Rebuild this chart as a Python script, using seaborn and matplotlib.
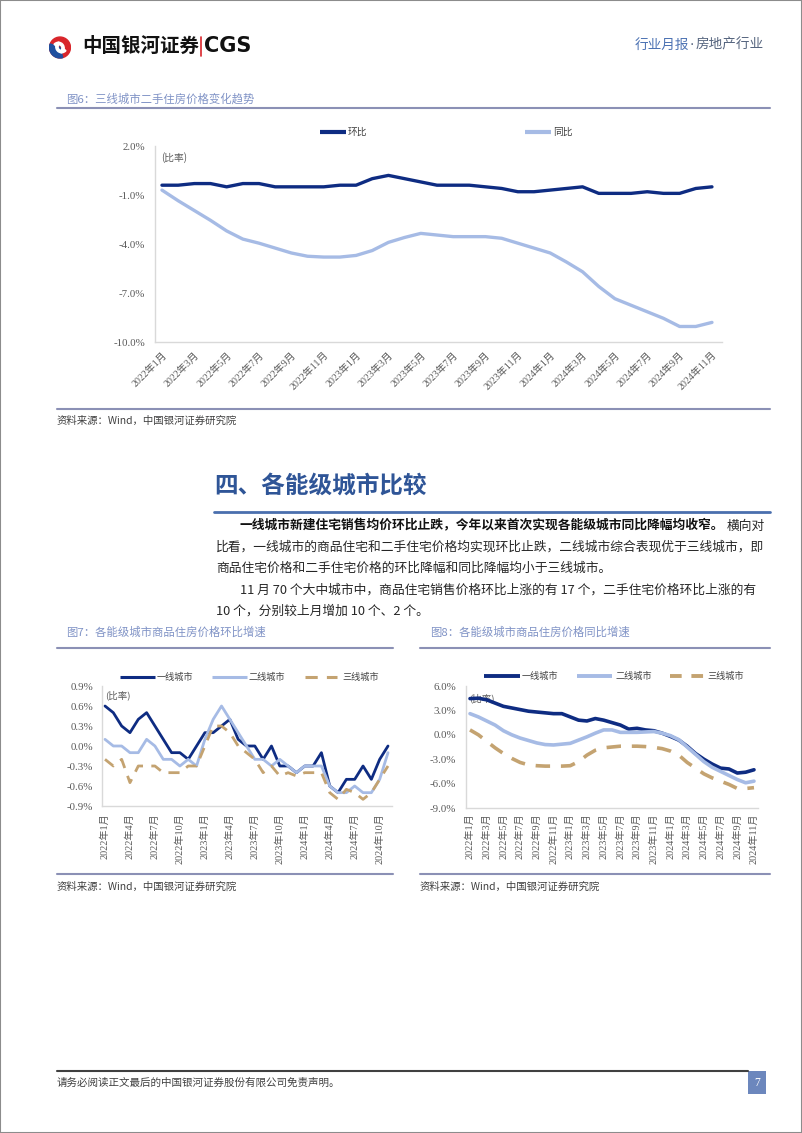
import numpy as np
import matplotlib
matplotlib.use('Agg')
import matplotlib.pyplot as plt
import seaborn as sns
from matplotlib.lines import Line2D
from matplotlib.patches import Rectangle, Circle, Wedge

# ---------------- data ----------------
months_idx = np.arange(35)  # 2022-01 ... 2024-11

# Fig 6: 三线城市二手住房价格 (%)
c1_huanbi = [-0.4, -0.4, -0.3, -0.3, -0.5, -0.3, -0.3, -0.5, -0.5, -0.5, -0.5, -0.4,
             -0.4, 0.0, 0.2, 0.0, -0.2, -0.4, -0.4, -0.4, -0.5, -0.6, -0.8, -0.8,
             -0.7, -0.6, -0.5, -0.9, -0.9, -0.9, -0.8, -0.9, -0.9, -0.6, -0.5]
c1_tongbi = [-0.7, -1.35, -1.95, -2.55, -3.2, -3.7, -3.95, -4.25, -4.55, -4.75, -4.8, -4.8,
             -4.7, -4.4, -3.9, -3.6, -3.35, -3.45, -3.55, -3.55, -3.55, -3.65, -3.95, -4.25,
             -4.55, -5.1, -5.7, -6.6, -7.35, -7.75, -8.15, -8.55, -9.05, -9.05, -8.8]
c1_yticks = [2.0, -1.0, -4.0, -7.0, -10.0]
c1_ylabels = ['2.0%', '-1.0%', '-4.0%', '-7.0%', '-10.0%']
c1_xlabels = ['2022年1月', '2022年3月', '2022年5月', '2022年7月', '2022年9月', '2022年11月',
              '2023年1月', '2023年3月', '2023年5月', '2023年7月', '2023年9月', '2023年11月',
              '2024年1月', '2024年3月', '2024年5月', '2024年7月', '2024年9月', '2024年11月']

# Fig 7: 商品住房价格环比 (%)
c7_tier1 = [0.6, 0.5, 0.3, 0.2, 0.4, 0.5, 0.3, 0.1, -0.1, -0.1, -0.2, 0.0,
            0.2, 0.2, 0.3, 0.4, 0.1, 0.0, 0.0, -0.2, 0.0, -0.3, -0.3, -0.4,
            -0.3, -0.3, -0.1, -0.6, -0.7, -0.5, -0.5, -0.3, -0.5, -0.2, 0.0]
c7_tier2 = [0.1, 0.0, 0.0, -0.1, -0.1, 0.1, 0.0, -0.2, -0.2, -0.3, -0.2, -0.3,
            0.1, 0.4, 0.6, 0.4, 0.2, 0.0, -0.2, -0.2, -0.3, -0.2, -0.3, -0.4,
            -0.3, -0.3, -0.3, -0.6, -0.7, -0.7, -0.6, -0.7, -0.7, -0.5, -0.1]
c7_tier3 = [-0.2, -0.3, -0.2, -0.55, -0.3, -0.3, -0.3, -0.4, -0.4, -0.4, -0.3, -0.3,
            0.0, 0.3, 0.3, 0.2, 0.0, -0.1, -0.2, -0.4, -0.3, -0.45, -0.4, -0.45,
            -0.4, -0.4, -0.4, -0.7, -0.8, -0.65, -0.7, -0.8, -0.7, -0.5, -0.3]
c7_yticks = [0.9, 0.6, 0.3, 0.0, -0.3, -0.6, -0.9]
c7_ylabels = ['0.9%', '0.6%', '0.3%', '0.0%', '-0.3%', '-0.6%', '-0.9%']
c7_xlabels = ['2022年1月', '2022年4月', '2022年7月', '2022年10月',
              '2023年1月', '2023年4月', '2023年7月', '2023年10月',
              '2024年1月', '2024年4月', '2024年7月', '2024年10月']

# Fig 8: 商品住房价格同比 (%)
c8_tier1 = [4.45, 4.5, 4.3, 3.9, 3.5, 3.3, 3.1, 2.9, 2.8, 2.7, 2.6, 2.6,
            2.2, 1.8, 1.7, 2.0, 1.8, 1.5, 1.2, 0.7, 0.8, 0.6, 0.5, 0.2,
            -0.2, -0.65, -1.4, -2.3, -3.0, -3.6, -4.1, -4.2, -4.7, -4.6, -4.3]
c8_tier2 = [2.6, 2.2, 1.7, 1.2, 0.5, 0.0, -0.4, -0.7, -1.0, -1.2, -1.25, -1.15,
            -1.05, -0.65, -0.25, 0.2, 0.6, 0.6, 0.3, 0.3, 0.3, 0.35, 0.4, 0.2,
            -0.1, -0.6, -1.5, -2.4, -3.3, -4.0, -4.5, -5.0, -5.5, -5.9, -5.7]
c8_tier3 = [0.6, 0.0, -0.8, -1.6, -2.3, -2.9, -3.4, -3.7, -3.8, -3.85, -3.85, -3.85,
            -3.8, -3.3, -2.5, -1.9, -1.6, -1.5, -1.4, -1.4, -1.4, -1.45, -1.55, -1.7,
            -2.0, -2.5, -3.4, -4.1, -4.8, -5.3, -5.7, -6.1, -6.6, -6.6, -6.5]
c8_yticks = [6.0, 3.0, 0.0, -3.0, -6.0, -9.0]
c8_ylabels = ['6.0%', '3.0%', '0.0%', '-3.0%', '-6.0%', '-9.0%']
c8_xlabels = c1_xlabels

# ---------------- style ----------------
sns.set_theme(style='white')
plt.rcParams['font.family'] = ['Noto Sans CJK SC', 'DejaVu Sans']
plt.rcParams['axes.unicode_minus'] = False
SERIF = ['Liberation Serif', 'Noto Sans CJK SC']

DARK = '#0e2c82'
LIGHT = '#a6bbe5'
TAN = '#c4a371'
TICK = '#595959'
CAP = '#8093c6'
RULE = '#8b90b5'

W, H = 802, 1133
fig = plt.figure(figsize=(W / 100, H / 100), dpi=100)
fig.patch.set_facecolor('white')


def fx(x):
    return x / W


def fy(y):
    return 1 - y / H


def add_ax(l, t, r, b):
    return fig.add_axes([fx(l), fy(b), (r - l) / W, (b - t) / H])


def hline(x0, x1, y, color, lw):
    fig.add_artist(Line2D([fx(x0), fx(x1)], [fy(y), fy(y)], color=color, lw=lw,
                          transform=fig.transFigure))


def txt(x, y, s, **kw):
    kw.setdefault('va', 'center')
    fig.text(fx(x), fy(y), s, **kw)


def style_ax(ax):
    sns.despine(ax=ax)
    for s in ['left', 'bottom']:
        ax.spines[s].set_color('#d9d9d9')
        ax.spines[s].set_linewidth(1.0)
    ax.set_facecolor('none')
    ax.grid(False)
    ax.tick_params(length=0, colors=TICK)
    ax.set_xlabel('')
    ax.set_ylabel('')


def legend_item(x0, x1, y, color, lw, label, tx, fs, ls='-'):
    fig.add_artist(Line2D([fx(x0), fx(x1)], [fy(y), fy(y)], color=color, lw=lw, ls=ls,
                          transform=fig.transFigure, solid_capstyle='butt'))
    txt(tx, y, label, fontsize=fs, color='#404040', ha='left')


# page border
fig.add_artist(Rectangle((0, 0), 1, 1, transform=fig.transFigure, fill=False,
                         edgecolor='#8c8c8c', lw=1.5))

# ---------------- header ----------------
logo = fig.add_axes([fx(48), fy(59), 24 / W, 23 / H])
logo.set_xlim(-1.1, 1.1)
logo.set_ylim(-1.1, 1.1)
logo.set_aspect('equal')
logo.axis('off')
logo.add_patch(Circle((0, 0), 1.0, color='#d9252b'))
logo.add_patch(Wedge((0, 0), 1.0, 160, 285, color='#1f4f9f'))
logo.add_patch(Wedge((0.15, 0.05), 0.55, 120, 320, width=0.22, color='white'))
logo.add_patch(Wedge((-0.15, -0.05), 0.55, -60, 140, width=0.22, color='white'))

txt(82, 46, '中国银河证券', fontsize=14, fontweight='bold', color='#111111', ha='left')
fig.add_artist(Line2D([fx(201), fx(201)], [fy(37), fy(56)], color='#d9252b', lw=1.2,
                      transform=fig.transFigure))
txt(204, 46, 'CGS', fontsize=15, fontweight='bold', color='#111111', ha='left',
    family=['DejaVu Sans'])
txt(635, 45, '行业月报', fontsize=9.8, color='#4c72b3', ha='left')
txt(692, 45, '·', fontsize=9.8, color='#56657f', ha='center', family=['DejaVu Sans'])
txt(696, 45, '房地产行业', fontsize=9.8, color='#56657f', ha='left')

# ---------------- Fig 6 ----------------
txt(66, 99, '图6：三线城市二手住房价格变化趋势', fontsize=8.2, color=CAP, ha='left')
hline(57, 770, 108, RULE, 1.5)

ax1 = add_ax(155, 146, 722, 342)
sns.lineplot(x=months_idx, y=c1_huanbi, ax=ax1, color=DARK, lw=2.4)
sns.lineplot(x=months_idx, y=c1_tongbi, ax=ax1, color=LIGHT, lw=2.4)
ax1.set_ylim(-10, 2)
ax1.set_xlim(-0.43, 34.62)
style_ax(ax1)
ax1.set_yticks(c1_yticks)
ax1.set_yticklabels(c1_ylabels, fontsize=7.8, family=SERIF)
ax1.set_xticks(months_idx[::2])
ax1.set_xticklabels(c1_xlabels, rotation=45, ha='right', rotation_mode='anchor',
                    fontsize=7.2, family=SERIF)
ax1.tick_params(axis='y', pad=7)
ax1.tick_params(axis='x', pad=6)
ax1.text(0.01, 0.94, '(比率)', transform=ax1.transAxes, fontsize=7, color=TICK,
         ha='left', va='center')

legend_item(320, 346, 132, DARK, 3, '环比', 348, 7)
legend_item(525, 551, 132, LIGHT, 3, '同比', 553, 7)

hline(57, 770, 409, RULE, 1.5)
txt(57, 421, '资料来源：Wind，中国银河证券研究院', fontsize=7.5, color='#404040', ha='left')

# ---------------- section text ----------------
txt(214, 486, '四、各能级城市比较', fontsize=17, fontweight='bold', color='#2f5597', ha='left')
hline(214, 770, 512, '#4a6fae', 2)

BODY = '#262626'
txt(240, 526, '一线城市新建住宅销售均价环比止跌，今年以来首次实现各能级城市同比降幅均收窄。',
    fontsize=9.2, fontweight='bold', color='#111111', ha='left')
txt(727, 526, '横向对', fontsize=9.2, color=BODY, ha='left')
txt(216, 547, '比看，一线城市的商品住宅和二手住宅价格均实现环比止跌，二线城市综合表现优于三线城市，即',
    fontsize=9.2, color=BODY, ha='left')
txt(216, 568, '商品住宅价格和二手住宅价格的环比降幅和同比降幅均小于三线城市。',
    fontsize=9.2, color=BODY, ha='left')
txt(240, 590, '11 月 70 个大中城市中，商品住宅销售价格环比上涨的有 17 个，二手住宅价格环比上涨的有',
    fontsize=9.2, color=BODY, ha='left')
txt(216, 611, '10 个，分别较上月增加 10 个、2 个。', fontsize=9.2, color=BODY, ha='left')

# ---------------- Fig 7 ----------------
txt(66, 632, '图7：各能级城市商品住房价格环比增速', fontsize=8.2, color=CAP, ha='left')
hline(57, 393, 648, RULE, 1.5)

ax7 = add_ax(102, 686, 392, 806)
sns.lineplot(x=months_idx, y=c7_tier1, ax=ax7, color=DARK, lw=2.0)
sns.lineplot(x=months_idx, y=c7_tier2, ax=ax7, color=LIGHT, lw=2.0)
sns.lineplot(x=months_idx, y=c7_tier3, ax=ax7, color=TAN, lw=2.0, linestyle=(0, (4, 3)))
ax7.set_ylim(-0.9, 0.9)
ax7.set_xlim(-0.36, 34.48)
style_ax(ax7)
ax7.set_yticks(c7_yticks)
ax7.set_yticklabels(c7_ylabels, fontsize=7.8, family=SERIF)
ax7.set_xticks(months_idx[::3])
ax7.set_xticklabels(c7_xlabels, rotation=90, fontsize=7.3, family=SERIF, va='top')
ax7.tick_params(axis='y', pad=6.5)
ax7.tick_params(axis='x', pad=5)
ax7.text(0.01, 0.92, '(比率)', transform=ax7.transAxes, fontsize=6.8, color=TICK,
         ha='left', va='center')

legend_item(120, 155, 677, DARK, 2.2, '一线城市', 157, 6.6)
legend_item(212, 247, 677, LIGHT, 2.2, '二线城市', 249, 6.6)
legend_item(305, 337, 677, TAN, 2.2, '三线城市', 342, 6.6, ls=(0, (4, 3)))

hline(57, 393, 874, RULE, 1.5)
txt(57, 887, '资料来源：Wind，中国银河证券研究院', fontsize=7.5, color='#404040', ha='left')

# ---------------- Fig 8 ----------------
txt(430, 632, '图8：各能级城市商品住房价格同比增速', fontsize=8.2, color=CAP, ha='left')
hline(420, 770, 648, RULE, 1.5)

ax8 = add_ax(466, 686, 758, 808)
ax8.text(0.01, 0.9, '(比率)', transform=ax8.transAxes, fontsize=6.8, color=TICK,
         ha='left', va='center', zorder=0)
sns.lineplot(x=months_idx, y=c8_tier1, ax=ax8, color=DARK, lw=2.6)
sns.lineplot(x=months_idx, y=c8_tier2, ax=ax8, color=LIGHT, lw=2.6)
sns.lineplot(x=months_idx, y=c8_tier3, ax=ax8, color=TAN, lw=2.6, linestyle=(0, (4, 3)))
ax8.set_ylim(-9, 6)
ax8.set_xlim(-0.48, 34.48)
style_ax(ax8)
ax8.set_yticks(c8_yticks)
ax8.set_yticklabels(c8_ylabels, fontsize=7.8, family=SERIF)
ax8.set_xticks(months_idx[::2])
ax8.set_xticklabels(c8_xlabels, rotation=90, fontsize=7.3, family=SERIF, va='top')
ax8.tick_params(axis='y', pad=7)
ax8.tick_params(axis='x', pad=4)

legend_item(484, 520, 676, DARK, 2.8, '一线城市', 522, 6.6)
legend_item(577, 612, 676, LIGHT, 2.8, '二线城市', 615, 6.6)
legend_item(670, 705, 676, TAN, 2.8, '三线城市', 707, 6.6, ls=(0, (3, 2.5)))

hline(420, 770, 874, RULE, 1.5)
txt(420, 887, '资料来源：Wind，中国银河证券研究院', fontsize=7.5, color='#404040', ha='left')

# ---------------- footer ----------------
hline(57, 748, 1071, '#404040', 1.5)
txt(57, 1083, '请务必阅读正文最后的中国银河证券股份有限公司免责声明。', fontsize=7.6,
    color='#404040', ha='left')
fig.add_artist(Rectangle((fx(748), fy(1094)), 18 / W, 23 / H, transform=fig.transFigure,
                         facecolor='#6c87bd', edgecolor='none'))
txt(757, 1083, '7', fontsize=8.5, color='white', ha='center', family=SERIF)

fig.savefig('out.png', dpi=100, facecolor='white')
